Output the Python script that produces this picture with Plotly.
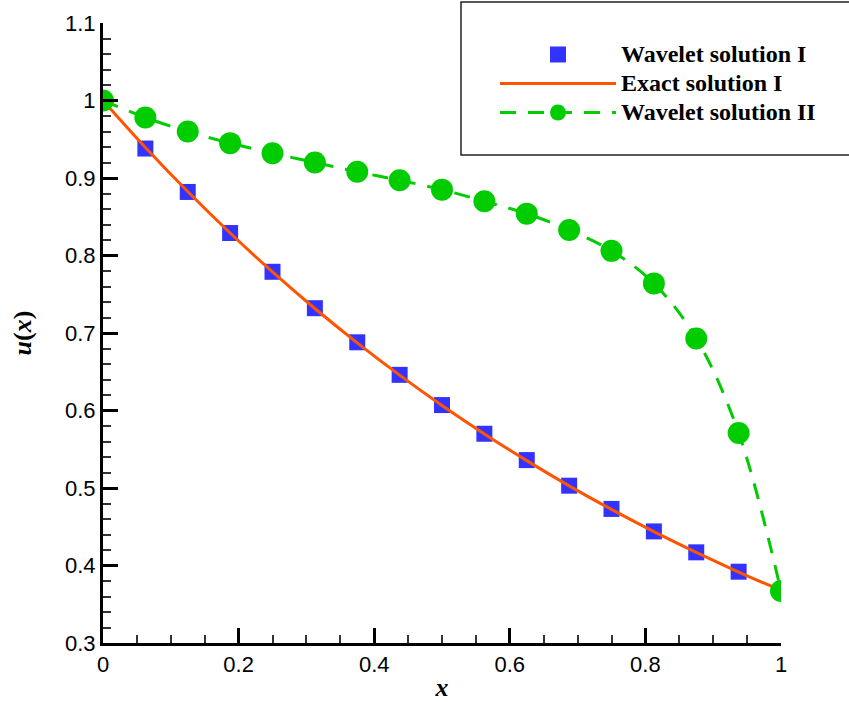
import plotly.graph_objects as go

# ---- data ----
x_nodes = [0, 0.0625, 0.125, 0.1875, 0.25, 0.3125, 0.375, 0.4375, 0.5,
           0.5625, 0.625, 0.6875, 0.75, 0.8125, 0.875, 0.9375, 1.0]

wavelet1_x = [0.0625, 0.125, 0.1875, 0.25, 0.3125, 0.375, 0.4375, 0.5,
              0.5625, 0.625, 0.6875, 0.75, 0.8125, 0.875, 0.9375]
wavelet1_y = [0.938, 0.882, 0.829, 0.779, 0.732, 0.688, 0.646, 0.607,
              0.570, 0.536, 0.503, 0.473, 0.444, 0.417, 0.392]

exact1_y = [1.0, 0.9394, 0.8825, 0.8290, 0.7788, 0.7316, 0.6873, 0.6456, 0.6065,
            0.5698, 0.5353, 0.5028, 0.4724, 0.4437, 0.4169, 0.3916, 0.3679]

wavelet2_y = [1.0, 0.978, 0.960, 0.945, 0.932, 0.920, 0.908, 0.897, 0.885,
              0.870, 0.854, 0.833, 0.806, 0.764, 0.693, 0.571, 0.367]

x_ticks = [0, 0.2, 0.4, 0.6, 0.8, 1.0]
x_ticklabels = ["0", "0.2", "0.4", "0.6", "0.8", "1"]
y_ticks = [0.3, 0.4, 0.5, 0.6, 0.7, 0.8, 0.9, 1.0, 1.1]
y_ticklabels = ["0.3", "0.4", "0.5", "0.6", "0.7", "0.8", "0.9", "1", "1.1"]

names = ["Wavelet solution I", "Exact solution I", "Wavelet solution II"]


def legend_label(s):
    return '<span style="font-size:24px"><b>' + s + '</b></span>'


fig = go.Figure()
fig.add_trace(go.Scatter(
    x=wavelet1_x, y=wavelet1_y, mode="markers", name=legend_label(names[0]),
    marker=dict(symbol="square", size=16, color="#3333FF", line=dict(width=0)),
))
fig.add_trace(go.Scatter(
    x=x_nodes, y=exact1_y, mode="lines", name=legend_label(names[1]),
    line=dict(color="#FF5500", width=3, shape="spline"),
))
fig.add_trace(go.Scatter(
    x=x_nodes, y=wavelet2_y, mode="lines+markers", name=legend_label(names[2]),
    line=dict(color="#00CC00", width=3, dash="16px,12px", shape="spline"),
    marker=dict(symbol="circle", size=22, color="#00CC00", line=dict(width=0)),
))

axis_font = dict(family="Liberation Sans, Arial, sans-serif", size=22, color="black")
title_font = dict(family="Liberation Serif, Times New Roman, serif", size=26, color="black")

fig.update_layout(
    width=849, height=702,
    margin=dict(l=103, r=68, t=23, b=59),
    paper_bgcolor="white", plot_bgcolor="white",
    showlegend=True,
    legend=dict(
        x=(495 - 103) / 678, y=(643 - 35) / 620, xanchor="left", yanchor="top",
        bgcolor="rgba(0,0,0,0)", borderwidth=0,
        font=dict(family="Liberation Serif, Times New Roman, serif", size=20, color="black"),
        itemwidth=116, itemsizing="trace", tracegroupgap=0,
    ),
    xaxis=dict(
        range=[0, 1], tickvals=x_ticks, ticktext=x_ticklabels,
        ticks="inside", ticklen=15, tickwidth=3, tickcolor="black",
        showline=True, linewidth=3, linecolor="black", mirror=False,
        showgrid=False, zeroline=False, tickfont=axis_font, automargin=False,
        minor=dict(dtick=0.05, ticks="inside", ticklen=8, tickwidth=1.5,
                   tickcolor="#333", showgrid=False),
        title=dict(text="<b><i>x</i></b>", font=title_font, standoff=5),
    ),
    yaxis=dict(
        range=[0.3, 1.1], tickvals=y_ticks, ticktext=y_ticklabels,
        ticks="inside", ticklen=15, tickwidth=3, tickcolor="black",
        showline=True, linewidth=3, linecolor="black", mirror=False,
        showgrid=False, zeroline=False, tickfont=axis_font, automargin=False,
        minor=dict(dtick=0.02, ticks="inside", ticklen=8, tickwidth=1.5,
                   tickcolor="#333", showgrid=False),
        title=dict(text="<b><i>u</i>(<i>x</i>)</b>", font=title_font, standoff=26),
    ),
    shapes=[dict(
        type="rect", xref="paper", yref="paper",
        x0=(461 - 103) / 678, x1=1.2, y0=(643 - 155) / 620, y1=(643 - 2) / 620,
        line=dict(color="#222", width=1.5), fillcolor="rgba(0,0,0,0)", layer="above",
    )],
)

fig.write_html(
    "out.html",
    config={"displayModeBar": False},
    post_script="document.body.style.margin='0';document.body.style.overflow='hidden';",
)
